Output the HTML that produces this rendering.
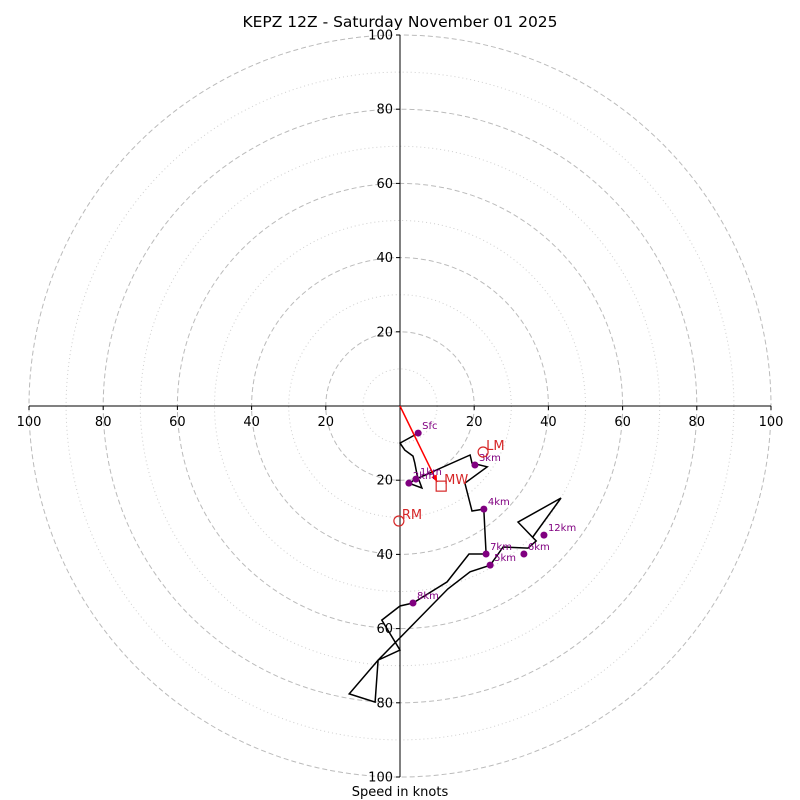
<!DOCTYPE html>
<html><head><meta charset="utf-8"><style>
html,body{margin:0;padding:0;background:#fff;}
svg{display:block;font-family:"DejaVu Sans","Liberation Sans",sans-serif;}
</style></head><body>
<svg id="chart" width="800" height="800" viewBox="0 0 800 800">
<text x="400" y="27" text-anchor="middle" font-size="15.5">KEPZ 12Z - Saturday November 01 2025</text>
<g id="grid"></g>
<g id="axes"></g>
<g id="series"></g>
<text x="400" y="796" text-anchor="middle" font-size="13">Speed in knots</text>
</svg>
<script>
const ringMajor = [20, 40, 60, 80, 100];
const ringMinor = [10, 30, 50, 70, 90];
const tickLabels = ["20", "40", "60", "80", "100"];
const windU = [4.9,0,1.3,3.5,4.0,4.6,5.9,2.4,4.3,18.9,19.4,23.5,17.5,19.4,22.6,23.2,18.6,12.7,3.5,0,-4.9,0,-5.9,-6.7,-13.7,-5.9,12.9,18.9,24.3,27.8,34.5,36.7,31.8,43.4,35.8];
const windV = [-7.3,-10.0,-11.9,-13.5,-15.4,-18.6,-22.1,-20.8,-19.7,-13.2,-15.4,-16.4,-20.8,-28.3,-27.8,-39.9,-39.9,-47.4,-53.1,-53.9,-57.7,-65.8,-68.5,-79.8,-77.6,-68.5,-49.3,-44.7,-42.9,-38.0,-38.3,-36.4,-31.3,-24.8,-35.3];
const markerLabels = ["Sfc","1km","2km","3km","4km","5km","6km","7km","8km","12km"];
const markerU = [4.9,4.3,2.4,20.2,22.6,24.3,33.4,23.2,3.5,38.8];
const markerV = [-7.3,-19.7,-20.8,-15.9,-27.8,-42.9,-39.9,-39.9,-53.1,-34.8];
const motionNames = ["MW","LM","RM"];
const motionU = [11.1,22.4,-0.3];
const motionV = [-21.6,-12.4,-31.0];
const meanWindU = 10.0, meanWindV = -20.5;

const NS = "http://www.w3.org/2000/svg";
const cx = 400, cy = 406, scale = 3.71;
const X = u => cx + u * scale;
const Y = v => cy - v * scale;
function mk(tag, attrs, parent) {
  const e = document.createElementNS(NS, tag);
  for (const k in attrs) e.setAttribute(k, attrs[k]);
  parent.appendChild(e);
  return e;
}
const grid = document.getElementById('grid');
ringMinor.forEach(r => {
  const c = mk('circle', {cx: cx, cy: cy, r: r*scale, fill: 'none', stroke: '#cfcfcf', 'stroke-width': 1, 'stroke-dasharray': '1,3'}, grid);
  
  
});
ringMajor.forEach(r => {
  const c = mk('circle', {cx: cx, cy: cy, r: r*scale, fill: 'none', stroke: '#bbbbbb', 'stroke-width': 1, 'stroke-dasharray': '5,3'}, grid);
  
  
});
const axes = document.getElementById('axes');
const R = 100*scale;
let l = mk('line', {x1: cx-R, y1: cy, x2: cx+R, y2: cy, stroke: '#000', 'stroke-width': 1}, axes);


l = mk('line', {x1: cx, y1: cy-R, x2: cx, y2: cy+R, stroke: '#000', 'stroke-width': 1}, axes);


ringMajor.forEach((r, i) => {
  [-1, 1].forEach(s => {
    mk('line', {x1: X(s*r), y1: cy, x2: X(s*r), y2: cy+4, stroke: '#000'}, axes);
    const t = mk('text', {x: X(s*r), y: cy+20, 'text-anchor': 'middle', 'font-size': 13}, axes);
    t.textContent = tickLabels[i];
    
    
    mk('line', {x1: cx-4, y1: Y(s*r), x2: cx, y2: Y(s*r), stroke: '#000'}, axes);
    const t2 = mk('text', {x: cx-7, y: Y(s*r)+4.5, 'text-anchor': 'end', 'font-size': 13}, axes);
    t2.textContent = tickLabels[i];
    
    
  });
});
const series = document.getElementById('series');
const pts = windU.map((u, i) => X(u).toFixed(1) + ',' + Y(windV[i]).toFixed(1)).join(' ');
const pl = mk('polyline', {points: pts, fill: 'none', stroke: '#000', 'stroke-width': 1.5, 'stroke-linejoin': 'miter'}, series);


const mw = mk('line', {x1: X(0), y1: Y(0), x2: X(meanWindU), y2: Y(meanWindV), stroke: '#ff0000', 'stroke-width': 1.5}, series);


const ang = Math.atan2(Y(meanWindV)-Y(0), X(meanWindU)-X(0));
const ax = X(meanWindU), ay = Y(meanWindV);
const ah = mk('polygon', {points: [ax+','+ay, (ax-7*Math.cos(ang)+3*Math.sin(ang))+','+(ay-7*Math.sin(ang)-3*Math.cos(ang)), (ax-7*Math.cos(ang)-3*Math.sin(ang))+','+(ay-7*Math.sin(ang)+3*Math.cos(ang))].join(' '), fill: '#ff0000'}, series);


markerLabels.forEach((lab, i) => {
  const c = mk('circle', {cx: X(markerU[i]), cy: Y(markerV[i]), r: 3.5, fill: '#800080'}, series);
  
  
  const t = mk('text', {x: X(markerU[i])+4, y: Y(markerV[i])-4, 'font-size': 10, fill: '#800080'}, series);
  t.textContent = lab;
  
  
});
motionNames.forEach((nm, i) => {
  const x = X(motionU[i]), y = Y(motionV[i]);
  let m;
  if (nm === 'MW') m = mk('rect', {x: x-5, y: y-5, width: 10, height: 10, fill: 'none', stroke: '#d62728', 'stroke-width': 1.2}, series);
  else m = mk('circle', {cx: x, cy: y, r: 5, fill: 'none', stroke: '#d62728', 'stroke-width': 1.2}, series);
  
  
  const t = mk('text', {x: x+3, y: y-2, 'font-size': 13, fill: '#d62728'}, series);
  t.textContent = nm;
  
  
});
</script>
</body></html>
